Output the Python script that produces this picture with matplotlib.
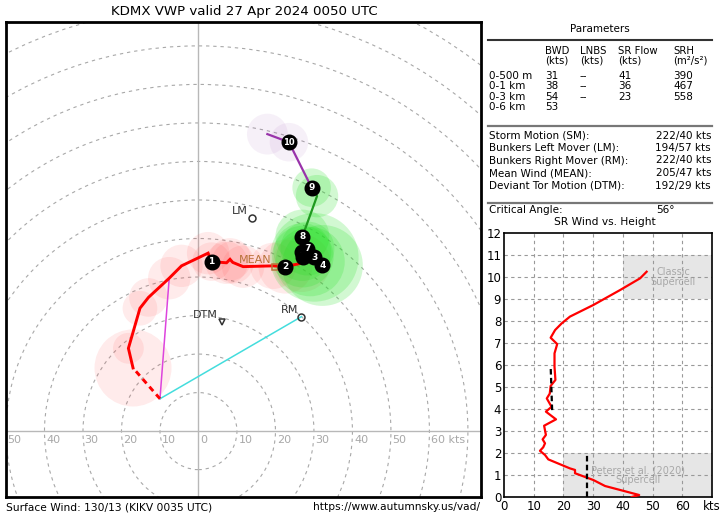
import numpy as np
import matplotlib
matplotlib.use("Agg")
import matplotlib.pyplot as plt
from matplotlib.patches import Circle, Rectangle

W, H = 723, 518

# hodograph trace (kts)
sfc_u, sfc_v = -10.0, 8.4
red_u = [-17.0, -18.2, -15.2, -13.0, -7.6, -4.4, 2.5, 3.4, 7.3, 8.2, 8.9, 11.6, 19.4, 22.6, 26.8]
red_v = [16.4, 21.5, 31.9, 34.7, 39.7, 42.9, 46.2, 44.0, 43.7, 44.6, 43.8, 42.7, 42.9, 42.7, 43.6]
red_r = [10.0, 4.0, 4.5, 5.0, 5.5, 5.5, 5.5, 5.0, 5.5, 5.5, 5.5, 5.5, 6.0, 7.0, 7.5]
green_u = [26.8, 30.1, 32.2, 29.0, 27.1, 27.0, 28.3, 27.0, 30.8, 29.4]
green_v = [43.6, 45.1, 43.0, 44.0, 45.3, 46.5, 47.4, 50.5, 61.0, 63.2]
green_r = [8.0, 11.5, 10.5, 9.0, 8.0, 7.5, 7.0, 7.0, 5.5, 5.0]
purple_u = [29.4, 23.5, 17.9]
purple_v = [63.2, 75.0, 77.1]
purple_r = [5.0, 5.0, 5.3]

# km markers
mark_u = [3.4, 22.6, 30.1, 32.2, 27.1, 27.0, 28.3, 27.0, 29.4, 23.5]
mark_v = [44.0, 42.7, 45.1, 43.0, 45.3, 46.5, 47.4, 50.5, 63.2, 75.0]

# storm motions (dir, speed)
motions = {"RM": (222, 40), "LM": (194, 57), "MEAN": (205, 47), "DTM": (192, 29)}

# SR wind vs height
sr_kts = [43.0, 45.5, 41.3, 34.0, 30.1, 23.9, 23.9, 22.2, 14.9, 13.8, 12.1, 13.2, 13.8, 13.0,
          14.1, 13.5, 17.5, 14.1, 16.0, 14.4, 15.4, 15.7, 17.3, 17.0, 17.0, 17.9, 15.7, 17.2,
          19.4, 22.2, 30.1, 39.1, 45.8, 48.0]
sr_km = [0.0, 0.09, 0.24, 0.5, 0.77, 1.08, 1.23, 1.3, 1.71, 1.91, 2.1, 2.26, 2.44, 2.62,
         2.82, 3.24, 3.53, 3.88, 4.1, 4.48, 4.7, 5.05, 5.32, 5.92, 6.53, 6.95, 7.24, 7.59,
         7.89, 8.2, 8.73, 9.41, 9.94, 10.24]
lower_dash = ([27.8, 27.8], [0.0, 1.95])
upper_dash = ([16.2, 15.7], [3.95, 5.95])

# parameter table
param_cols = ["BWD\n(kts)", "LNBS\n(kts)", "SR Flow\n(kts)", "SRH\n(m\u00b2/s\u00b2)"]
param_rows = ["0-500 m", "0-1 km", "0-3 km", "0-6 km"]
param_vals = [["31", "--", "41", "390"],
              ["38", "--", "36", "467"],
              ["54", "--", "23", "558"],
              ["53", "", "", ""]]
motion_labels = ["Storm Motion (SM):", "Bunkers Left Mover (LM):", "Bunkers Right Mover (RM):",
                 "Mean Wind (MEAN):", "Deviant Tor Motion (DTM):"]
motion_vals = ["222/40 kts", "194/57 kts", "222/40 kts", "205/47 kts", "192/29 kts"]


def fx(x):
    return x / W


def fy(y):
    return 1 - y / H


def uv(d, s):
    r = np.radians(d)
    return -s * np.sin(r), -s * np.cos(r)


plt.rcParams['font.family'] = 'DejaVu Sans'
fig = plt.figure(figsize=(W / 100, H / 100), dpi=100)

# ---------------- hodograph ----------------
ax = fig.add_axes([fx(6), fy(497), 475 / W, 475 / H])
ax.set_xlim(-50.0, 73.4)
ax.set_ylim(-17.1, 106.2)
ax.set_xticks([])
ax.set_yticks([])
for s in ax.spines.values():
    s.set_linewidth(2)
    s.set_color('black')

for r in range(10, 160, 10):
    ax.add_patch(Circle((0, 0), r, fill=False, ls=(0, (3, 3.5)), ec='#a8a8a8', lw=0.8, zorder=1))
ax.axhline(0, color='#b8b8b8', lw=1, zorder=1)
ax.axvline(0, color='#b8b8b8', lw=1, zorder=1)
for t in range(-50, 70, 10):
    lab = f"{abs(t)}" + (" kts" if t == 60 else "")
    ax.text(t + 0.4, -0.9, lab, ha='left', va='top', color='#a8a8a8', fontsize=8, zorder=2)

# uncertainty circles
for u, v, r in zip(red_u, red_v, red_r):
    ax.add_patch(Circle((u, v), r, color='#ff4a4a', alpha=0.11, lw=0, zorder=2))
for u, v, r in zip(green_u[1:], green_v[1:], green_r[1:]):
    ax.add_patch(Circle((u, v), r, color='#22e022', alpha=0.2, lw=0, zorder=2))
for u, v, r in zip(purple_u[1:], purple_v[1:], purple_r[1:]):
    ax.add_patch(Circle((u, v), r, color='#b070c0', alpha=0.1, lw=0, zorder=2))

rm_u, rm_v = uv(*motions["RM"])
ax.plot([sfc_u, red_u[4]], [sfc_v, red_v[4]], color='#dd44dd', lw=1.1, zorder=3)
ax.plot([sfc_u, rm_u], [sfc_v, rm_v], color='#44dddd', lw=1.1, zorder=3)

ax.plot([sfc_u, red_u[0]], [sfc_v, red_v[0]], color='red', lw=2.1, ls=(0, (2, 1.5)), zorder=4)
ax.plot(red_u, red_v, color='red', lw=2.1, zorder=4, solid_joinstyle='miter')
ax.plot(green_u, green_v, color='#1f9a1f', lw=1.6, zorder=4)
ax.plot(purple_u, purple_v, color='#9933aa', lw=1.6, zorder=4)

for i, (u, v) in enumerate(zip(mark_u, mark_v)):
    ax.plot(u, v, 'o', ms=10.5, color='black', zorder=6 + i * 0.01)
    ax.text(u, v, str(i + 1), color='white', fontsize=6.5 if i < 9 else 6, fontweight='bold',
            ha='center', va='center', zorder=6 + i * 0.01 + 0.005)

mk = {"RM": ('o', '#333333'), "LM": ('o', '#333333'), "MEAN": ('s', '#b8733a'), "DTM": ('v', '#333333')}
for name, (d, s) in motions.items():
    u, v = uv(d, s)
    m, c = mk[name]
    ax.plot(u, v, m, ms=5, mfc='none', mec=c, mew=1.1, zorder=5)
    ax.annotate(name, (u, v), xytext=(-2.5, 1.5), textcoords='offset points', ha='right',
                va='bottom', color=c, fontsize=8, zorder=5)

fig.text(fx(244), fy(12), "KDMX VWP valid 27 Apr 2024 0050 UTC", ha='center', va='center', fontsize=9.6)
fig.text(fx(6), fy(507), "Surface Wind: 130/13 (KIKV 0035 UTC)", ha='left', va='center', fontsize=7.7)
fig.text(fx(480), fy(507), "https://www.autumnsky.us/vad/", ha='right', va='center', fontsize=7.7)

# ---------------- parameter panel ----------------
fig.text(fx(600), fy(29), "Parameters", ha='center', va='center', fontsize=7.5)
for yy, col, lw in [(40, '#333333', 1.5), (126, '#777777', 1.6), (203, '#777777', 1.6)]:
    fig.add_artist(plt.Line2D([fx(488), fx(712)], [fy(yy), fy(yy)], color=col, lw=lw))

col_x = [545, 580, 618, 673]
for x, c in zip(col_x, param_cols):
    fig.text(fx(x), fy(55.5), c, ha='left', va='center', fontsize=7.3, linespacing=0.95)
row_y = [76, 86.3, 96.6, 107]
for y, name, vals in zip(row_y, param_rows, param_vals):
    fig.text(fx(489), fy(y), name, ha='left', va='center', fontsize=7.5)
    for x, val in zip(col_x, vals):
        fig.text(fx(x), fy(y), val, ha='left', va='center', fontsize=7.5)

for y, name, val in zip([135.5, 148, 160.5, 173, 185.5], motion_labels, motion_vals):
    fig.text(fx(489), fy(y), name, ha='left', va='center', fontsize=7.5)
    fig.text(fx(711), fy(y), val, ha='right', va='center', fontsize=7.5)
fig.text(fx(489), fy(210), "Critical Angle:", ha='left', va='center', fontsize=7.5)
fig.text(fx(656), fy(210), "56\u00b0", ha='left', va='center', fontsize=7.5)
fig.text(fx(605), fy(222), "SR Wind vs. Height", ha='center', va='center', fontsize=7.7)

# ---------------- SR wind vs height ----------------
ax2 = fig.add_axes([fx(504), fy(497), 208 / W, 264 / H])
ax2.set_xlim(0, 70)
ax2.set_ylim(0, 12)
ax2.add_patch(Rectangle((40, 9), 30, 2, color='#e6e6e6', lw=0, zorder=0))
ax2.add_patch(Rectangle((20, 0), 50, 2, color='#e6e6e6', lw=0, zorder=0))
ax2.text(57, 10, "Classic\nSupercell", ha='center', va='center', color='#a8a8a8', fontsize=7,
         linespacing=0.9, zorder=1)
ax2.text(45, 1.0, "Peters et al. (2020)\nSupercell", ha='center', va='center', color='#a8a8a8',
         fontsize=7, linespacing=0.9, zorder=1)
for x in range(10, 70, 10):
    ax2.axvline(x, color='#999999', lw=0.8, ls=(0, (3, 3)), zorder=1)
for y in range(1, 12):
    ax2.axhline(y, color='#999999', lw=0.8, ls=(0, (3, 3)), zorder=1)
ax2.plot(sr_kts, sr_km, color='red', lw=1.6, zorder=3)
ax2.plot(*lower_dash, color='black', lw=1.6, ls=(0, (2.5, 1.5)), zorder=4)
ax2.plot(*upper_dash, color='black', lw=1.6, ls=(0, (2.5, 1.5)), zorder=4)
ax2.set_xticks(range(0, 80, 10))
ax2.set_xticklabels([str(x) for x in range(0, 70, 10)] + ["kts"])
ax2.set_yticks(range(0, 13))
ax2.tick_params(length=0, labelsize=8.5, pad=2)
for s in ax2.spines.values():
    s.set_linewidth(1.2)

fig.savefig("out.png", dpi=100)
